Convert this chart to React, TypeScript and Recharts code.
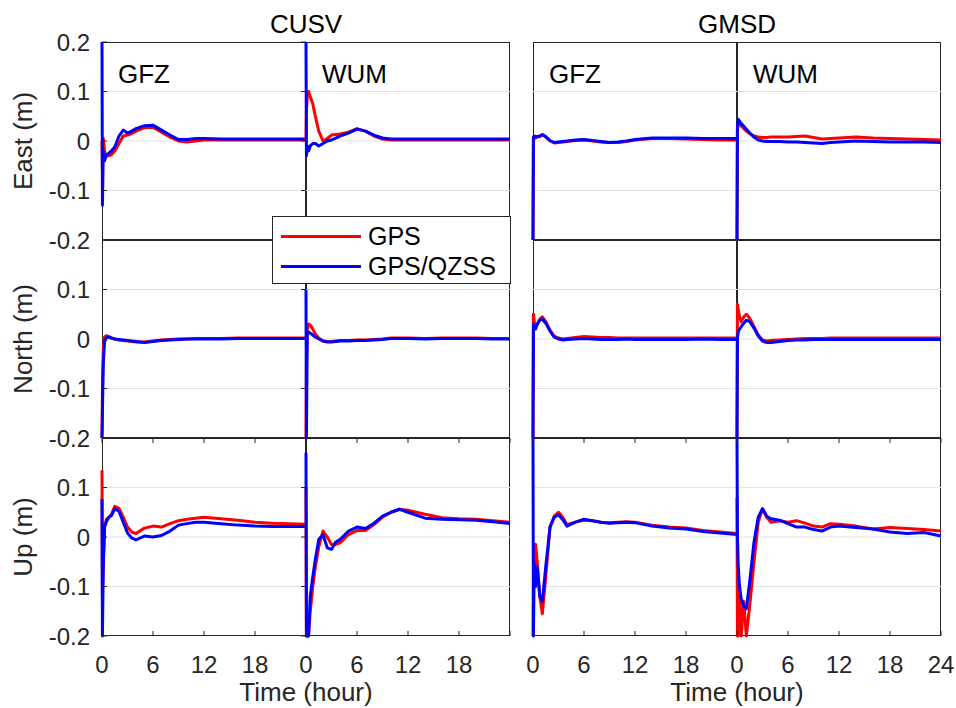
import { LineChart, Line, XAxis, YAxis, CartesianGrid, Legend } from "recharts";

// Positioning error over the first day, two stations x two orbit products
const HOURS = [0, 0.05, 0.15, 0.3, 0.5, 0.8, 1.1, 1.5, 2, 2.5, 3, 3.5, 4, 5, 6, 7, 8, 9, 10, 11, 12, 14, 16, 18, 20, 22, 24];

const STATIONS = ["CUSV", "GMSD"];
const PRODUCTS = ["GFZ", "WUM"];
const COMPONENTS = ["East", "North", "Up"];
const SERIES_NAMES = ["GPS", "GPS/QZSS"];

const TIME_TICKS = [0, 6, 12, 18, 24];
const VALUE_TICKS = [-0.2, -0.1, 0, 0.1, 0.2];
const GRID_VALUES = [-0.1, 0, 0.1];

// CUSV / GFZ
const cusvGfzEastGps = [0.0, -0.06, 0.005, -0.02, -0.03, -0.03, -0.028, -0.02, -0.005, 0.01, 0.012, 0.015, 0.02, 0.027, 0.028, 0.018, 0.008, 0.0, -0.002, 0.0, 0.002, 0.002, 0.002, 0.002, 0.002, 0.002, 0.002];
const cusvGfzEastQzss = [0.2, -0.13, -0.02, -0.04, -0.03, -0.025, -0.02, -0.012, 0.01, 0.022, 0.016, 0.02, 0.025, 0.031, 0.032, 0.022, 0.012, 0.003, 0.003, 0.005, 0.005, 0.004, 0.004, 0.004, 0.004, 0.004, 0.004];
const cusvGfzNorthGps = [-0.2, -0.1, -0.02, 0.004, 0.007, 0.005, 0.002, 0.0, -0.002, -0.003, -0.004, -0.005, -0.006, -0.006, -0.004, -0.002, -0.001, 0.0, 0.0, 0.001, 0.001, 0.001, 0.002, 0.002, 0.002, 0.002, 0.002];
const cusvGfzNorthQzss = [-0.2, -0.15, -0.05, -0.005, 0.002, 0.004, 0.002, 0.0, -0.001, -0.002, -0.003, -0.004, -0.005, -0.007, -0.005, -0.003, -0.002, -0.001, 0.0, 0.0, 0.0, 0.0, 0.001, 0.001, 0.001, 0.001, 0.001];
const cusvGfzUpGps = [0.135, -0.12, -0.05, 0.02, 0.035, 0.04, 0.045, 0.062, 0.058, 0.04, 0.02, 0.01, 0.007, 0.018, 0.022, 0.02, 0.027, 0.033, 0.036, 0.038, 0.04, 0.037, 0.034, 0.03, 0.028, 0.027, 0.026];
const cusvGfzUpQzss = [0.077, -0.2, -0.06, 0.02, 0.03, 0.04, 0.043, 0.057, 0.052, 0.03, 0.008, -0.002, -0.006, 0.002, 0.0, 0.003, 0.012, 0.024, 0.027, 0.03, 0.03, 0.027, 0.024, 0.022, 0.021, 0.021, 0.021];

// CUSV / WUM
const cusvWumEastGps = [0.0, 0.06, 0.09, 0.1, 0.09, 0.075, 0.05, 0.02, 0.0, 0.005, 0.012, 0.013, 0.014, 0.018, 0.025, 0.02, 0.01, 0.004, 0.002, 0.002, 0.002, 0.002, 0.002, 0.002, 0.002, 0.002, 0.002];
const cusvWumEastQzss = [0.2, -0.03, -0.01, -0.02, -0.01, -0.005, -0.005, -0.01, -0.005, 0.0, 0.002, 0.006, 0.01, 0.016, 0.024, 0.02, 0.012, 0.006, 0.004, 0.004, 0.004, 0.004, 0.004, 0.004, 0.004, 0.004, 0.004];
const cusvWumNorthGps = [-0.2, -0.05, 0.02, 0.03, 0.028, 0.02, 0.01, 0.002, -0.004, -0.005, -0.005, -0.004, -0.003, -0.003, -0.002, -0.002, -0.001, 0.0, 0.002, 0.002, 0.002, 0.001, 0.002, 0.002, 0.002, 0.001, 0.001];
const cusvWumNorthQzss = [0.1, -0.2, 0.01, 0.014, 0.012, 0.008, 0.004, 0.0, -0.004, -0.006, -0.006, -0.005, -0.004, -0.004, -0.003, -0.003, -0.002, -0.001, 0.001, 0.001, 0.001, 0.0, 0.001, 0.001, 0.001, 0.0, 0.0];
const cusvWumUpGps = [0.1, -0.2, -0.2, -0.2, -0.15, -0.1, -0.06, -0.02, 0.012, 0.0, -0.015, -0.015, -0.012, 0.005, 0.013, 0.013, 0.025, 0.04, 0.05, 0.056, 0.054, 0.046, 0.039, 0.037, 0.036, 0.033, 0.03];
const cusvWumUpQzss = [0.17, -0.2, -0.2, -0.2, -0.12, -0.08, -0.045, -0.005, 0.005, -0.022, -0.025, -0.01, -0.005, 0.012, 0.02, 0.017, 0.028, 0.042, 0.05, 0.056, 0.05, 0.038, 0.036, 0.035, 0.034, 0.031, 0.027];

// GMSD / GFZ
const gmsdGfzEastGps = [-0.2, 0.005, 0.008, 0.006, 0.008, 0.009, 0.012, 0.008, 0.0, -0.004, -0.003, -0.002, -0.001, 0.001, 0.002, 0.0, -0.002, -0.003, -0.003, -0.001, 0.002, 0.005, 0.005, 0.004, 0.003, 0.002, 0.002];
const gmsdGfzEastQzss = [-0.2, 0.008, 0.01, 0.008, 0.009, 0.01, 0.013, 0.009, 0.001, -0.003, -0.002, -0.001, 0.0, 0.002, 0.003, 0.001, -0.001, -0.003, -0.002, 0.0, 0.003, 0.006, 0.006, 0.006, 0.005, 0.005, 0.005];
const gmsdGfzNorthGps = [-0.2, 0.05, 0.035, 0.025, 0.03, 0.04, 0.045, 0.035, 0.018, 0.006, 0.002, 0.0, 0.001, 0.003, 0.005, 0.004, 0.003, 0.003, 0.002, 0.002, 0.002, 0.002, 0.002, 0.002, 0.002, 0.002, 0.002];
const gmsdGfzNorthQzss = [-0.2, 0.03, 0.02, 0.02, 0.03, 0.038, 0.04, 0.032, 0.016, 0.004, 0.0, -0.002, -0.001, 0.0, 0.001, 0.0, -0.001, -0.001, -0.001, 0.0, -0.001, -0.001, -0.001, -0.001, 0.0, -0.001, -0.001];
const gmsdGfzUpGps = [-0.2, -0.1, -0.02, -0.015, -0.05, -0.12, -0.155, -0.08, 0.02, 0.042, 0.05, 0.04, 0.025, 0.03, 0.034, 0.033, 0.03, 0.029, 0.03, 0.031, 0.03, 0.024, 0.02, 0.018, 0.013, 0.01, 0.007];
const gmsdGfzUpQzss = [0.2, -0.2, -0.05, -0.1, -0.06, -0.12, -0.13, -0.06, 0.02, 0.04, 0.045, 0.035, 0.022, 0.03, 0.036, 0.033, 0.03, 0.028, 0.029, 0.03, 0.029, 0.022, 0.018, 0.016, 0.011, 0.008, 0.005];

// GMSD / WUM
const gmsdWumEastGps = [-0.2, 0.02, 0.035, 0.035, 0.03, 0.025, 0.02, 0.015, 0.01, 0.008, 0.007, 0.007, 0.008, 0.008, 0.008, 0.009, 0.01, 0.007, 0.004, 0.005, 0.006, 0.008, 0.006, 0.005, 0.004, 0.003, 0.002];
const gmsdWumEastQzss = [-0.2, 0.03, 0.044, 0.04, 0.035, 0.03, 0.024, 0.016, 0.008, 0.002, 0.0, -0.001, -0.001, -0.001, -0.002, -0.002, -0.003, -0.004, -0.005, -0.003, -0.002, 0.0, -0.001, -0.002, -0.002, -0.002, -0.003];
const gmsdWumNorthGps = [-0.2, 0.07, 0.06, 0.045, 0.035, 0.045, 0.05, 0.042, 0.025, 0.008, -0.002, -0.004, -0.003, -0.002, -0.001, 0.0, 0.001, 0.001, 0.001, 0.002, 0.002, 0.002, 0.002, 0.002, 0.002, 0.002, 0.002];
const gmsdWumNorthQzss = [-0.2, 0.0, 0.015, 0.02, 0.025, 0.032, 0.038, 0.035, 0.022, 0.006, -0.004, -0.007, -0.007, -0.005, -0.003, -0.002, -0.002, -0.001, -0.001, -0.001, -0.001, -0.001, -0.001, -0.001, -0.001, -0.001, -0.001];
const gmsdWumUpGps = [0.08, -0.2, -0.2, -0.1, -0.2, -0.13, -0.2, -0.138, -0.05, 0.03, 0.057, 0.04, 0.03, 0.033, 0.03, 0.033, 0.028, 0.022, 0.02, 0.027, 0.026, 0.022, 0.016, 0.019, 0.017, 0.015, 0.012];
const gmsdWumUpQzss = [0.2, 0.0, -0.06, -0.1, -0.125, -0.14, -0.145, -0.09, -0.01, 0.04, 0.057, 0.042, 0.037, 0.034, 0.027, 0.02, 0.02, 0.015, 0.012, 0.02, 0.022, 0.019, 0.016, 0.01, 0.007, 0.009, 0.002];

// [station][product][component] -> [gps, gps/qzss]
const SERIES = [
    [
        [[cusvGfzEastGps, cusvGfzEastQzss], [cusvGfzNorthGps, cusvGfzNorthQzss], [cusvGfzUpGps, cusvGfzUpQzss]],
        [[cusvWumEastGps, cusvWumEastQzss], [cusvWumNorthGps, cusvWumNorthQzss], [cusvWumUpGps, cusvWumUpQzss]],
    ],
    [
        [[gmsdGfzEastGps, gmsdGfzEastQzss], [gmsdGfzNorthGps, gmsdGfzNorthQzss], [gmsdGfzUpGps, gmsdGfzUpQzss]],
        [[gmsdWumEastGps, gmsdWumEastQzss], [gmsdWumNorthGps, gmsdWumNorthQzss], [gmsdWumUpGps, gmsdWumUpQzss]],
    ],
];

// layout
const FONT = '"Liberation Sans", Arial, Helvetica, sans-serif';
const INK = "#262626";
const PLOT_W = 204;
const PLOT_H = 198;
const COL_LEFT = [102, 533];
const ROW_TOP = [42, 240, 438];
const Y_AXIS_W = 70;
const X_AXIS_H = 44;
const TICK_LEN = 5;

function TimeTick(props: any) {
    const { x, y, payload, showLabel, showEnd } = props;
    const v = payload.value;
    const label = showLabel && (v !== 24 || showEnd);
    return (
        <g>
            <line x1={x} x2={x} y1={y} y2={y - TICK_LEN} stroke={INK} />
            <line x1={x} x2={x} y1={y - PLOT_H} y2={y - PLOT_H + TICK_LEN} stroke={INK} />
            {label && (
                <text x={x} y={y + 37} textAnchor="middle" fontSize={24} fontFamily={FONT} fill={INK}>
                    {v}
                </text>
            )}
        </g>
    );
}

function ValueTick(props: any) {
    const { x, y, payload, showLabel, showTop } = props;
    const v = payload.value;
    const label = showLabel && (v !== 0.2 || showTop);
    return (
        <g>
            <line x1={x} x2={x + TICK_LEN} y1={y} y2={y} stroke={INK} />
            <line x1={x + PLOT_W - TICK_LEN} x2={x + PLOT_W} y1={y} y2={y} stroke={INK} />
            {label && (
                <text x={x - 12} y={y + 8.5} textAnchor="end" fontSize={24} fontFamily={FONT} fill={INK}>
                    {String(v)}
                </text>
            )}
        </g>
    );
}

function LegendBox({ payload }: any) {
    return (
        <div style={{ width: 239, height: 68, boxSizing: "border-box", border: `1px solid ${INK}`, background: "#fff", position: "relative", fontFamily: FONT }}>
            {(payload || []).map((p: any, i: number) => (
                <div key={p.value} style={{ position: "absolute", left: 0, top: 4 + 30 * i, height: 30, display: "flex", alignItems: "center" }}>
                    <span style={{ display: "inline-block", marginLeft: 8, width: 80, height: 3, background: p.color }} />
                    <span style={{ marginLeft: 7, fontSize: 25, color: "#000", lineHeight: "30px" }}>{p.value}</span>
                </div>
            ))}
        </div>
    );
}

function Panel({ s, p, c }: { s: number; p: number; c: number }) {
    const [gps, qzss] = SERIES[s][p][c];
    const data = HOURS.map((t, i) => ({ t, gps: gps[i], qzss: qzss[i] }));
    const isLeft = s === 0 && p === 0;
    const isBottom = c === 2;
    const plotLeft = COL_LEFT[s] + p * PLOT_W;
    const plotTop = ROW_TOP[c];
    const yw = isLeft ? Y_AXIS_W : 0;
    const xh = isBottom ? X_AXIS_H : 0;
    const withLegend = s === 0 && p === 1 && c === 0;

    return (
        <div style={{ position: "absolute", left: plotLeft - yw, top: plotTop }}>
            <LineChart width={PLOT_W + yw} height={PLOT_H + xh} data={data} margin={{ top: 0, right: 0, bottom: 0, left: 0 }}>
                <CartesianGrid vertical={false} horizontalValues={GRID_VALUES} stroke="#e3e3e3" />
                <XAxis
                    dataKey="t"
                    type="number"
                    domain={[0, 24]}
                    ticks={TIME_TICKS}
                    interval={0}
                    height={xh}
                    axisLine={false}
                    tickLine={false}
                    tickSize={0}
                    tickMargin={0}
                    tick={<TimeTick showLabel={isBottom} showEnd={s === 1 && p === 1} />}
                />
                <YAxis
                    type="number"
                    domain={[-0.2, 0.2]}
                    ticks={VALUE_TICKS}
                    interval={0}
                    width={yw}
                    axisLine={false}
                    tickLine={false}
                    tickSize={0}
                    tickMargin={0}
                    tick={<ValueTick showLabel={isLeft} showTop={c === 0} />}
                />
                {withLegend && (
                    <Legend
                        layout="vertical"
                        align="center"
                        verticalAlign="middle"
                        content={<LegendBox />}
                        wrapperStyle={{ position: "absolute", left: 272 - plotLeft, top: 216 - plotTop, width: 239, height: 68, zIndex: 5 }}
                    />
                )}
                <Line type="linear" dataKey="gps" name={SERIES_NAMES[0]} stroke="#ff0000" strokeWidth={3} strokeLinejoin="round" dot={false} isAnimationActive={false} />
                <Line type="linear" dataKey="qzss" name={SERIES_NAMES[1]} stroke="#0000ff" strokeWidth={3} strokeLinejoin="round" dot={false} isAnimationActive={false} />
            </LineChart>
        </div>
    );
}

export default function App() {
    const cells: { s: number; p: number; c: number }[] = [];
    STATIONS.forEach((_, s) => PRODUCTS.forEach((_, p) => COMPONENTS.forEach((_, c) => cells.push({ s, p, c }))));

    return (
        <div style={{ position: "absolute", left: 0, top: 0, width: 956, height: 708, background: "#fff", overflow: "hidden", fontFamily: FONT }}>
            {/* tick labels sit just outside each small chart */}
            <style>{`.recharts-surface { overflow: visible; }`}</style>
            {/* axes boxes sit under the traces */}
            {cells.map(({ s, p, c }) => (
                <div
                    key={`box-${s}-${p}-${c}`}
                    style={{
                        position: "absolute",
                        left: COL_LEFT[s] + p * PLOT_W,
                        top: ROW_TOP[c],
                        width: PLOT_W,
                        height: PLOT_H,
                        boxSizing: "border-box",
                        border: `1px solid ${INK}`,
                    }}
                />
            ))}
            {cells.map(({ s, p, c }) => (
                <Panel key={`panel-${s}-${p}-${c}`} s={s} p={p} c={c} />
            ))}
            <svg width={956} height={708} style={{ position: "absolute", left: 0, top: 0, pointerEvents: "none" }}>
                {STATIONS.map((name, s) => (
                    <g key={name}>
                        <text x={COL_LEFT[s] + PLOT_W} y={33} textAnchor="middle" fontSize={26} fontFamily={FONT} fill="#000">
                            {name}
                        </text>
                        <text x={COL_LEFT[s] + PLOT_W} y={701} textAnchor="middle" fontSize={26} fontFamily={FONT} fill={INK}>
                            Time (hour)
                        </text>
                        {PRODUCTS.map((prod, p) => (
                            <text key={prod} x={COL_LEFT[s] + p * PLOT_W + 16} y={83} fontSize={26} fontFamily={FONT} fill="#000">
                                {prod}
                            </text>
                        ))}
                    </g>
                ))}
                {COMPONENTS.map((comp, c) => (
                    <text
                        key={comp}
                        transform={`translate(32, ${ROW_TOP[c] + PLOT_H / 2}) rotate(-90)`}
                        textAnchor="middle"
                        fontSize={26}
                        fontFamily={FONT}
                        fill={INK}
                    >
                        {comp} (m)
                    </text>
                ))}
            </svg>
        </div>
    );
}
